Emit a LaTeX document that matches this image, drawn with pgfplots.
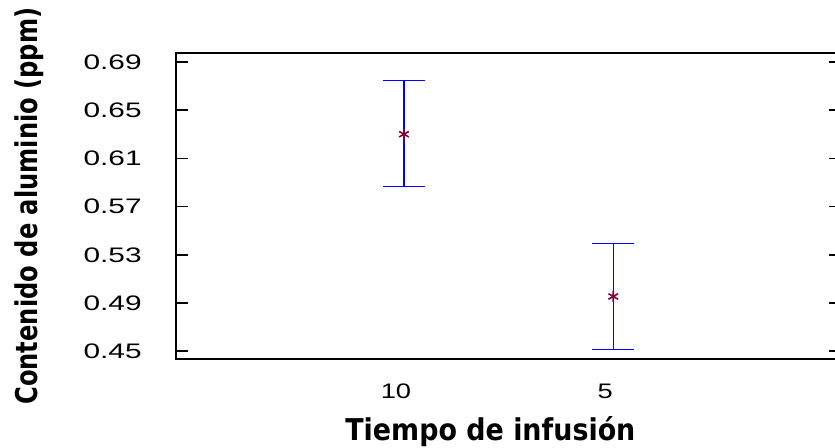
\documentclass[border=0pt]{standalone}
\usepackage{fontspec}
\usepackage{pgfplots}
\pgfplotsset{compat=1.18}
\usepackage{graphicx}
\newfontfamily\ytickfont{Liberation Sans}[FakeStretch=1.42]
\newfontfamily\xtickfont{Liberation Sans}[FakeStretch=1.3]
\newfontfamily\labelfont{DejaVu Sans}
\definecolor{markcol}{RGB}{128,0,64}
\begin{document}
\begin{tikzpicture}
\begin{axis}[
  at={(0,0)}, anchor=south west,
  scale only axis, width=332.5pt, height=153pt,
  xmin=-0.0893, xmax=3.088, ymin=0.4435, ymax=0.6975,
  xtick={1,2}, xticklabels={10,5},
  ytick={0.45,0.49,0.53,0.57,0.61,0.65,0.69},
  yticklabels={0.45,0.49,0.53,0.57,0.61,0.65,0.69},
  /pgf/number format/assume math mode=true,
  tick align=inside,
  major tick length=5.8pt,
  xtick style={draw=none},
  axis line style={line width=0.8pt, black},
  every tick/.style={line width=0.8pt, black},
  yticklabel style={font=\ytickfont\fontsize{10.5}{12}\selectfont, anchor=east, inner sep=0pt, xshift=-17pt},
  xticklabel style={font=\xtickfont\fontsize{10.5}{12}\selectfont, anchor=center, inner sep=0pt, yshift=-16.25pt, xshift=-4pt},
  xlabel={\resizebox{145pt}{\height}{\labelfont\fontsize{15}{18}\selectfont\bfseries Tiempo de infusión}},
  xlabel style={at={(axis description cs:0.2541,-0.2670)}, anchor=base west, inner sep=0pt},
  ylabel={\resizebox{198.5pt}{\height}{\labelfont\fontsize{15}{18}\selectfont\bfseries Contenido de aluminio (ppm)}},
  ylabel style={at={(axis description cs:-0.2090,-0.1503)}, anchor=base west, inner sep=0pt},
]
\addplot[blue, draw=none, mark=none, forget plot,
  error bars/.cd, y dir=both, y explicit,
  error bar style={draw=blue, line width=0.6pt},
  error mark options={draw=blue, line width=0.6pt, mark size=10.5pt, rotate=90}]
  table[x=x, y=y, y error plus=ep, y error minus=em] {
  x y ep em
  1 0.6301 0.0445 0.0436
  2 0.4954 0.0442 0.0439
  };
\addplot[only marks, mark=asterisk, mark size=2.8pt, color=markcol, mark options={line width=0.8pt, draw=markcol}]
  table[x=x, y=y] {
  x y
  1 0.6301
  2 0.4954
  };
\end{axis}
\pgfresetboundingbox
\path[use as bounding box] (-88pt,-44.5pt) rectangle (329.5pt,179.5pt);
\end{tikzpicture}
\end{document}
